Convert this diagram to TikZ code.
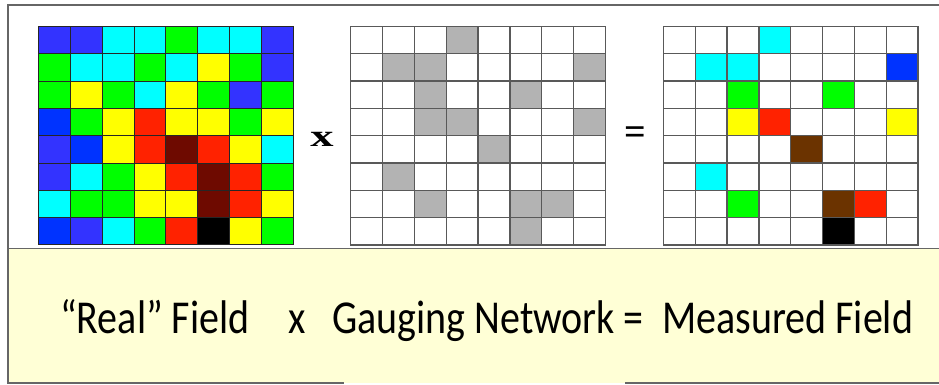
\documentclass[tikz,border=0pt]{standalone}
\usepackage{fontspec}
\setmainfont{Carlito}
\newfontfamily\serifx{Liberation Serif}
\definecolor{cB}{HTML}{3333FF}
\definecolor{cN}{HTML}{0033FF}
\definecolor{cC}{HTML}{00FFFF}
\definecolor{cG}{HTML}{00FF00}
\definecolor{cY}{HTML}{FFFF00}
\definecolor{cR}{HTML}{FF2200}
\definecolor{cD}{HTML}{6E0A00}
\definecolor{cK}{HTML}{000000}
\definecolor{cW}{HTML}{FFFFFF}
\definecolor{cS}{HTML}{B3B3B3}
\definecolor{cO}{HTML}{6B3300}
\definecolor{panel}{HTML}{FFFFD6}
\definecolor{framec}{HTML}{666666}
\tikzset{
  frameline/.style={draw=framec, line width=1.5pt},
  cellA/.style={draw=black!85, line width=0.9pt},
  cellB/.style={draw=black!65, line width=1.3pt},
  caption/.style={font=\fontsize{40}{48}\selectfont, inner sep=0pt, anchor=base west},
  opsign/.style={font=\serifx\bfseries\fontsize{31}{36}\selectfont, inner sep=0pt}
}
\newcommand{\cw}{31.85}
\newcommand{\chh}{27.3}
\newcommand{\tall}[1]{\scalebox{1}[1.18]{#1}}
\begin{document}
\begin{tikzpicture}[x=1pt,y=-1pt]
\useasboundingbox (0,0) rectangle (939,385);
% panels
\fill[panel] (8,249) rectangle (939,383);
\draw[frameline] (939,5) -- (8,5) -- (8,383) -- (344,383);
\draw[frameline] (625,383) -- (939,383);
\draw[frameline] (8,248.5) -- (939,248.5);
% grid 1: real field
\foreach \row [count=\r from 0] in {
  {B,B,C,C,G,C,C,B},
  {G,C,C,G,C,Y,G,B},
  {G,Y,G,C,Y,G,B,G},
  {N,G,Y,R,Y,Y,G,Y},
  {B,N,Y,R,D,R,Y,C},
  {B,C,G,Y,R,D,R,G},
  {C,G,G,Y,Y,D,R,Y},
  {N,B,C,G,R,K,Y,G}}{
  \foreach \c [count=\k from 0] in \row {
    \draw[cellA, fill=c\c] ({38.5+\k*\cw},{26.5+\r*\chh}) rectangle +(\cw,\chh);
  }
}
% grid 2: gauging network
\foreach \row [count=\r from 0] in {
  {W,W,W,S,W,W,W,W},
  {W,S,S,W,W,W,W,S},
  {W,W,S,W,W,S,W,W},
  {W,W,S,S,W,W,W,S},
  {W,W,W,W,S,W,W,W},
  {W,S,W,W,W,W,W,W},
  {W,W,S,W,W,S,S,W},
  {W,W,W,W,W,S,W,W}}{
  \foreach \c [count=\k from 0] in \row {
    \draw[cellB, fill=c\c] ({350.7+\k*\cw},{26.5+\r*\chh}) rectangle +(\cw,\chh);
  }
}
% grid 3: measured field
\foreach \row [count=\r from 0] in {
  {W,W,W,C,W,W,W,W},
  {W,C,C,W,W,W,W,N},
  {W,W,G,W,W,G,W,W},
  {W,W,Y,R,W,W,W,Y},
  {W,W,W,W,O,W,W,W},
  {W,C,W,W,W,W,W,W},
  {W,W,G,W,W,O,R,W},
  {W,W,W,W,W,K,W,W}}{
  \foreach \c [count=\k from 0] in \row {
    \draw[cellB, fill=c\c] ({663.3+\k*\cw},{26.5+\r*\chh}) rectangle +(\cw,\chh);
  }
}
% operators
\node[opsign] (times) at (322,139) {\scalebox{1.5}[1]{x}};
\node[opsign, font=\serifx\bfseries\fontsize{38}{40}\selectfont] (equals) at (635,135.5) {=};
% caption
\node[caption] (real) at (60,333) {\tall{“Real” Field}};
\node[caption, anchor=base] (xsign) at (297,333) {\tall{x}};
\node[caption] (gauge) at (332,333) {\tall{Gauging Network =}};
\node[caption] (meas) at (662,333) {\tall{Measured Field}};
\end{tikzpicture}
\end{document}
